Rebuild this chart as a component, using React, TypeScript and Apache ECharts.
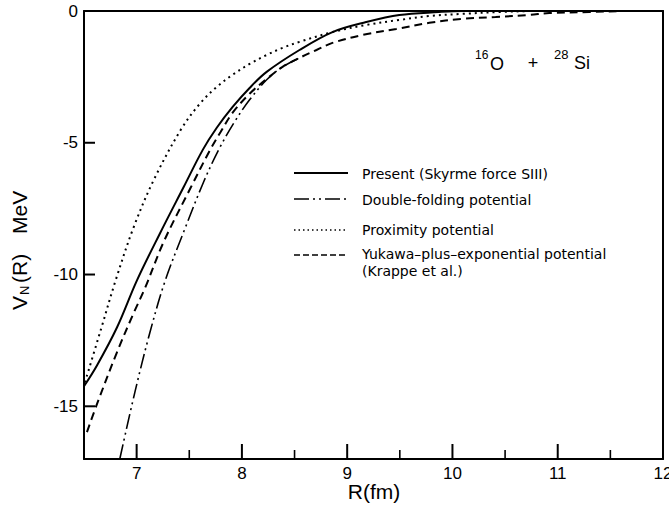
import React, { useEffect, useRef } from "react";
import * as echarts from "echarts";

// ---- Data ----
// Present (Skyrme force SIII)
const presentR = [6.5, 6.623, 6.813, 7.002, 7.22, 7.448, 7.628, 7.761, 7.912, 8.073, 8.235, 8.547, 8.86, 9.18, 9.495, 9.87, 10.1, 12];
const presentV = [-14.24, -13.45, -12.01, -10.23, -8.45, -6.67, -5.27, -4.43, -3.64, -2.92, -2.31, -1.48, -0.8, -0.42, -0.15, -0.04, 0, 0];

// Double-folding potential
const foldingR = [6.84, 6.983, 7.126, 7.268, 7.448, 7.637, 7.789, 7.931, 8.073, 8.235, 8.386, 8.547];
const foldingV = [-17.0, -14.47, -12.2, -10.27, -8.37, -6.48, -5.19, -4.2, -3.37, -2.61, -2.12, -1.78];

// Proximity potential
const proximityR = [6.509, 6.661, 6.803, 6.974, 7.164, 7.419, 7.6, 7.761, 7.912, 8.073, 8.235, 8.386, 8.547, 8.86, 9.18, 9.495, 9.78, 10.09, 10.44, 10.82, 12];
const proximityV = [-14.09, -12.08, -10.19, -8.18, -6.4, -4.51, -3.52, -2.88, -2.42, -2.01, -1.67, -1.4, -1.17, -0.8, -0.53, -0.34, -0.19, -0.11, -0.04, 0, 0];

// Yukawa-plus-exponential potential (Krappe et al.)
const yukawaR = [6.528, 6.623, 6.813, 6.974, 7.078, 7.258, 7.514, 7.694, 7.799, 7.912, 8.073, 8.235, 8.386, 8.547, 8.709, 8.86, 9.145, 9.467, 9.78, 10.09, 10.41, 10.73, 10.92, 11.3, 11.68, 12];
const yukawaV = [-15.98, -14.92, -12.95, -11.44, -10.53, -8.75, -6.7, -5.3, -4.58, -3.86, -3.14, -2.58, -2.12, -1.78, -1.48, -1.21, -0.91, -0.68, -0.45, -0.3, -0.23, -0.15, -0.08, -0.04, 0, 0];

const xMin = 6.5;
const xMax = 12;
const yMin = -17;
const yMax = 0;

// tick positions (tick labels come from the axes)
const xMajorTicks = [7, 8, 9, 10, 11];
const xMinorTicks = [7.5, 8.5, 9.5, 10.5, 11.5];
const yMajorTicks = [-15, -10, -5];

const legendLabels = [
  "Present (Skyrme force SIII)",
  "Double-folding potential",
  "Proximity potential",
  "Yukawa\u2013plus\u2013exponential potential",
  "(Krappe et al.)",
];

const zip = (xs: number[], ys: number[]) => xs.map((x, i) => [x, ys[i]]);

const FONT = '"Liberation Sans", "DejaVu Sans", sans-serif';
const LFONT = '"DejaVu Sans", sans-serif';

const W = 669;
const H = 509;
const G = { left: 84, right: 6, top: 11, bottom: 50 };

export default function App() {
  const ref = useRef<HTMLDivElement>(null);
  useEffect(() => {
    document.body.style.margin = "0";
    const chart = echarts.init(ref.current!, null, { renderer: "svg" });
    const lineCommon = { type: "line" as const, showSymbol: false, symbol: "none", smooth: 0.35, silent: true, xAxisIndex: 0, yAxisIndex: 0 };
    // pixel -> data-unit conversion for tick lengths
    const pxPerX = (W - G.left - G.right) / (xMax - xMin);
    const pxPerY = (H - G.top - G.bottom) / (yMax - yMin);
    const tickSeries = (pts: number[][], width: number) => ({
      type: "line" as const,
      showSymbol: false,
      symbol: "none",
      silent: true,
      clip: false,
      z: 5,
      xAxisIndex: 0,
      yAxisIndex: 0,
      data: pts,
      lineStyle: { color: "#000", width, type: "solid" },
    });
    const ticks: any[] = [
      ...xMajorTicks.map((v) => tickSeries([[v, yMin], [v, yMin + 15 / pxPerY]], 2)),
      ...xMinorTicks.map((v) => tickSeries([[v, yMin], [v, yMin + 9 / pxPerY]], 1.6)),
      ...yMajorTicks.map((v) => tickSeries([[xMin, v], [xMin + 11 / pxPerX, v]], 2)),
    ];
    const legendX1 = 294;
    const legendX2 = 348;
    const textX = 362;
    const txt = (text: string, x: number, y: number, size: number, align = "left", family = FONT) => ({
      type: "text",
      x,
      y,
      style: { text, font: `${size}px ${family}`, fill: "#000", align, verticalAlign: "middle" },
    });
    const frameAxis = (position: string, min: number, max: number) => ({
      type: "value",
      position,
      min,
      max,
      axisLine: { show: true, onZero: false, lineStyle: { color: "#000", width: 2 } },
      axisTick: { show: false },
      axisLabel: { show: false },
      splitLine: { show: false },
    });
    chart.setOption({
      animation: false,
      backgroundColor: "#fff",
      grid: { ...G, show: false, containLabel: false, outerBoundsMode: "none" },
      xAxis: [
        {
          type: "value",
          min: xMin,
          max: xMax,
          splitNumber: 5,
          position: "bottom",
          axisLine: { show: true, onZero: false, lineStyle: { color: "#000", width: 2 } },
          axisTick: { show: false },
          axisLabel: {
            show: true,
            color: "#000",
            fontSize: 17,
            fontFamily: FONT,
            margin: 6,
            formatter: (v: number) => (v === xMin ? "" : String(v)),
          },
          splitLine: { show: false },
        },
        frameAxis("top", xMin, xMax),
      ],
      yAxis: [
        {
          type: "value",
          min: yMin,
          max: yMax,
          splitNumber: 4,
          axisLine: { show: true, onZero: false, lineStyle: { color: "#000", width: 2 } },
          axisTick: { show: false },
          axisLabel: {
            show: true,
            color: "#000",
            fontSize: 17,
            fontFamily: FONT,
            margin: 6,
            formatter: (v: number) => (v === yMin ? "" : String(v)),
          },
          splitLine: { show: false },
        },
        frameAxis("right", yMin, yMax),
      ],
      series: [
        { ...lineCommon, name: legendLabels[0], data: zip(presentR, presentV), lineStyle: { color: "#000", width: 2, type: "solid" } },
        { ...lineCommon, name: legendLabels[1], data: zip(foldingR, foldingV), lineStyle: { color: "#000", width: 1.6, type: [15, 4, 2, 4, 2, 4] } },
        { ...lineCommon, name: legendLabels[2], data: zip(proximityR, proximityV), lineStyle: { color: "#000", width: 2, type: [2, 4] } },
        { ...lineCommon, name: legendLabels[3], data: zip(yukawaR, yukawaV), lineStyle: { color: "#000", width: 2, type: [8, 5] } },
        ...ticks,
      ],
      graphic: [
        // legend samples
        { type: "line", shape: { x1: legendX1, y1: 173, x2: legendX2, y2: 173 }, style: { stroke: "#000", lineWidth: 2 } },
        { type: "line", shape: { x1: legendX1, y1: 199, x2: legendX2, y2: 199 }, style: { stroke: "#000", lineWidth: 1.6, lineDash: [15, 4, 2, 4, 2, 4] } },
        { type: "line", shape: { x1: legendX1, y1: 230, x2: legendX2 - 3, y2: 230 }, style: { stroke: "#000", lineWidth: 1.4, lineDash: [1.5, 3] } },
        { type: "line", shape: { x1: legendX1, y1: 255, x2: legendX2 - 3, y2: 255 }, style: { stroke: "#000", lineWidth: 1.6, lineDash: [6, 3] } },
        txt(legendLabels[0], textX, 174, 14, "left", LFONT),
        txt(legendLabels[1], textX, 200, 14, "left", LFONT),
        txt(legendLabels[2], textX, 230, 14, "left", LFONT),
        txt(legendLabels[3], textX, 254, 14, "left", LFONT),
        txt(legendLabels[4], textX, 271, 14, "left", LFONT),
        // reaction annotation
        txt("16", 475, 55, 12),
        txt("O", 490, 64, 18),
        txt("+", 533, 63, 18, "center"),
        txt("28", 554, 54, 13),
        txt("Si", 574, 63, 18),
        // x-axis title
        txt("R(fm)", 374, 491, 21, "center"),
        // y-axis title (rotated)
        {
          type: "group",
          x: 19,
          y: 310,
          rotation: Math.PI / 2,
          children: [txt("V", 0, 0, 21), txt("N", 15, 5, 13), txt("(R)", 27, 0, 21), txt("MeV", 76, 0, 21)],
        },
      ],
    });
    return () => chart.dispose();
  }, []);
  return <div ref={ref} style={{ position: "absolute", left: 0, top: 0, width: W, height: H }} />;
}
